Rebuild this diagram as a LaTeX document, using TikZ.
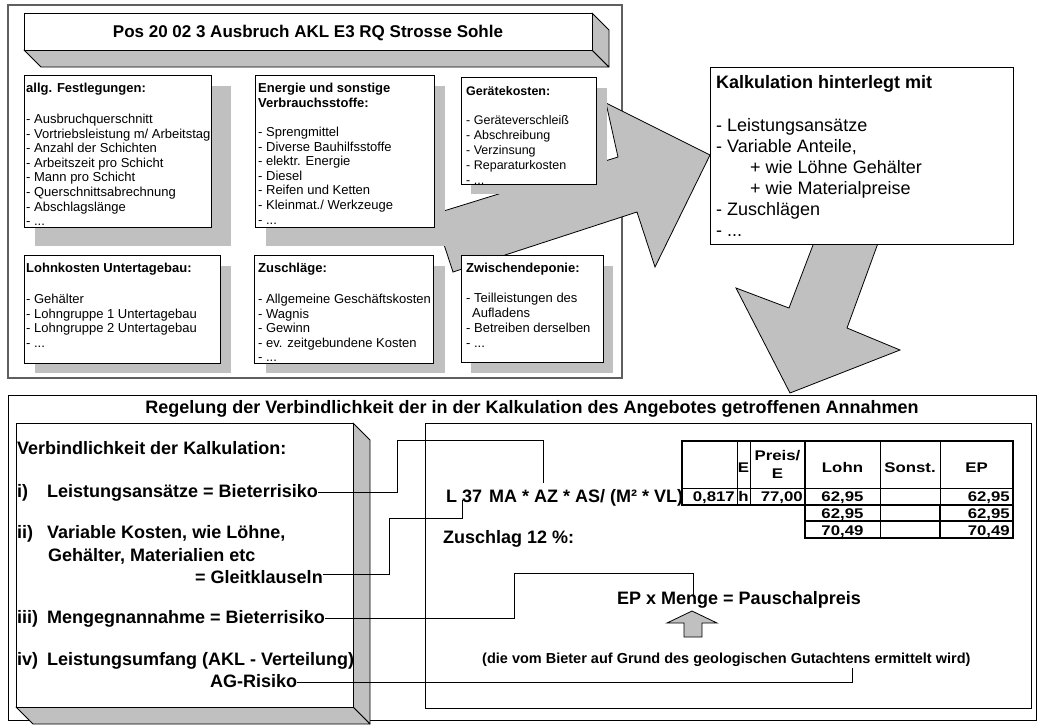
\documentclass[tikz,border=0pt]{standalone}
\usepackage{fontspec}
\setmainfont{Liberation Sans}
\newfontfamily\tabfont[FakeStretch=1.2]{Liberation Sans}
\usetikzlibrary{calc}

\definecolor{silvergray}{HTML}{C0C0C0}
\definecolor{framegray}{HTML}{5F5F5F}

% left-aligned block of lines whose first baseline is the node's base
\newcommand{\txtlines}[1]{\begin{tabular}[t]{@{}l@{}}#1\end{tabular}}

\tikzset{
  txt/.style={inner sep=0pt, anchor=base west},
  boxtxt/.style={txt, font=\fontsize{13}{14.6}\selectfont},
  boxtxtw/.style={txt, font=\fontsize{13}{15}\selectfont},
  card/.style={fill=white, draw=black, line width=0.9pt},
  dropshadow/.style={fill=silvergray, draw=none},
  face/.style={fill=silvergray, draw=black, line width=0.8pt, line join=round},
  blockarrow/.style={fill=silvergray, draw=black, line width=0.8pt, line join=miter},
  big/.style={txt, font=\fontsize{18}{22.5}\selectfont\bfseries},
  kalk/.style={txt, font=\fontsize{18}{21}\selectfont},
  link/.style={draw=black, line width=0.8pt},
  cell/.style={inner sep=0pt, anchor=base, font=\tabfont\bfseries\fontsize{14}{16}\selectfont},
  cellr/.style={cell, anchor=base east},
  tabthick/.style={line width=2pt},
  tabthin/.style={line width=1pt}
}

\begin{document}
\begin{tikzpicture}[x=1pt, y=-1pt]
\useasboundingbox (0,0) rectangle (1039,724);
\fill[white] (0,0) rectangle (1039,724);

% ---------- upper part: cost groups ----------
\draw[framegray, line width=1.3pt, fill=white] (8,5) rectangle (622,378);

% block arrow towards the calculation box
\draw[blockarrow] (434,214) -- (618,157) -- (606,103) -- (710,155)
  -- (655,267) -- (637,212) -- (453,272) -- cycle;

% title bar with depth
\draw[face] (24,50) -- (592,50) -- (609,67) -- (41,67) -- cycle;
\draw[face] (592,13) -- (609,30) -- (609,67) -- (592,50) -- cycle;
\draw[card] (24,13) rectangle (592,50);
\node[inner sep=0pt, anchor=base, font=\fontsize{17}{20}\selectfont\bfseries] (ttl) at (308,37)
  {Pos 20 02 3 Ausbruch AKL E3 RQ Strosse Sohle};

% shadows
\path[dropshadow] (35,86) rectangle (231,246);
\path[dropshadow] (266,86) rectangle (445,246);
\path[dropshadow] (471,88) rectangle (607,194);
\path[dropshadow] (35,266) rectangle (231,373);
\path[dropshadow] (266,266) rectangle (445,373);
\path[dropshadow] (471,266) rectangle (613,373);

% cards
\draw[card] (24,75) rectangle (211,227);
\draw[card] (255,75) rectangle (434,227);
\draw[card] (461,77) rectangle (596,184);
\draw[card] (24,255) rectangle (220,363);
\draw[card] (254,255) rectangle (433,363);
\draw[card] (461,255) rectangle (603,362);

\node[boxtxt] (festl) at (26,92.5) {\txtlines{\textbf{allg. Festlegungen:}\\[16.4pt]
  - Ausbruchquerschnitt\\
  - Vortriebsleistung m/ Arbeitstag\\
  - Anzahl der Schichten\\
  - Arbeitszeit pro Schicht\\
  - Mann pro Schicht\\
  - Querschnittsabrechnung\\
  - Abschlagslänge\\
  - ...}};

\node[boxtxt] (energie) at (258,92.5) {\txtlines{\textbf{Energie und sonstige}\\
  \textbf{Verbrauchsstoffe:}\\[14.8pt]
  - Sprengmittel\\
  - Diverse Bauhilfsstoffe\\
  - elektr. Energie\\
  - Diesel\\
  - Reifen und Ketten\\
  - Kleinmat./ Werkzeuge\\
  - ...}};

\node[txt, font=\fontsize{12.5}{15}\selectfont] (geraete) at (466,95.5) {\txtlines{\textbf{Gerätekosten:}\\[14pt]
  - Geräteverschleiß\\
  - Abschreibung\\
  - Verzinsung\\
  - Reparaturkosten\\
  - ...}};

\node[boxtxt] (lohn) at (26,272.5) {\txtlines{\textbf{Lohnkosten Untertagebau:}\\[16.4pt]
  - Gehälter\\
  - Lohngruppe 1 Untertagebau\\
  - Lohngruppe 2 Untertagebau\\
  - ...}};

\node[boxtxt] (zuschlaege) at (258,272.5) {\txtlines{\textbf{Zuschläge:}\\[16.4pt]
  - Allgemeine Geschäftskosten\\
  - Wagnis\\
  - Gewinn\\
  - ev. zeitgebundene Kosten\\
  - ...}};

\node[boxtxtw] (deponie) at (466,272.5) {\txtlines{\textbf{Zwischendeponie:}\\[15pt]
  - Teilleistungen des\\
  \hspace{6pt}Aufladens\\
  - Betreiben derselben\\
  - ...}};

% ---------- calculation box ----------
\draw[blockarrow] (821,224) -- (885,224) -- (847,328) -- (900,350)
  -- (790,393) -- (736,288) -- (789,308) -- cycle;
\draw[card] (710,67) rectangle (1013,244);
\node[kalk, font=\fontsize{18}{21}\selectfont\bfseries] (kalkt) at (716,88.5) {Kalkulation hinterlegt mit};
\node[kalk] (kalkl) at (716,131) {\txtlines{- Leistungsansätze\\
  - Variable Anteile,\\
  \hspace{34pt}+ wie Löhne Gehälter\\
  \hspace{34pt}+ wie Materialpreise\\
  - Zuschlägen\\
  - ...}};

% ---------- lower part: binding of the calculation ----------
\draw[black, line width=0.9pt] (8,395) rectangle (1036,720);
\node[inner sep=0pt, anchor=base, font=\fontsize{18}{22}\selectfont\bfseries] (regel) at (532,413)
  {Regelung der Verbindlichkeit der in der Kalkulation des Angebotes getroffenen Annahmen};

% left box with depth
\draw[face] (353,423) -- (370,440) -- (370,724) -- (353,707) -- cycle;
\draw[face] (16,707) -- (353,707) -- (370,724) -- (33,724) -- cycle;
\draw[card] (16,423) rectangle (353,707);

\node[big] (vtitle) at (17,454) {Verbindlichkeit der Kalkulation:};
\node[big] (v1) at (17,497) {\makebox[30pt][l]{i)}Leistungsansätze = Bieterrisiko};
\node[big] (v2a) at (17,538) {\makebox[30pt][l]{ii)}Variable Kosten, wie Löhne,};
\node[big] (v2b) at (48,561) {Gehälter, Materialien etc};
\node[big] (v2c) at (195,583) {= Gleitklauseln};
\node[big] (v3) at (17,623) {\makebox[30pt][l]{iii)}Mengegnannahme = Bieterrisiko};
\node[big] (v4) at (17,665) {\makebox[30pt][l]{iv)}Leistungsumfang (AKL - Verteilung)};
\node[big] (v4b) at (210,687) {AG-Risiko};

% right box
\draw[card] (425,423) rectangle (1031,708);
\node[big] (formel) at (446,502) {L 37\hspace{2pt} MA * AZ * AS/ (M² * VL)};
\node[big] (zuschl) at (443,543) {Zuschlag 12 \%:};
\node[big] (pausch) at (617,604) {EP x Menge = Pauschalpreis};
\node[txt, font=\fontsize{14.5}{17}\selectfont\bfseries] (geo) at (482,663)
  {(die vom Bieter auf Grund des geologischen Gutachtens ermittelt wird)};
\draw[blockarrow] (692,611) -- (717,623) -- (702,623) -- (702,637)
  -- (684,637) -- (684,623) -- (667,623) -- cycle;

% price table
\draw[tabthin] (682,488) -- (1013,488);
\foreach \cx in {737,750,880,940} \draw[tabthin] (\cx,441) -- (\cx,505);
\draw[tabthin] (880,505) -- (880,538);
\draw[tabthick] (805,441) -- (805,538);
\draw[tabthick] (940,505) -- (940,538);
\draw[tabthick] (805,521) -- (1013,521);
\draw[tabthick] (682,441) rectangle (1013,505);
\draw[tabthick] (805,505) rectangle (1013,538);

\node[cell] (hE) at (743.5,472) {E};
\node[cell] (hP1) at (777.5,460) {Preis/};
\node[cell] (hP2) at (777.5,478) {E};
\node[cell] (hL) at (842.5,472) {Lohn};
\node[cell] (hS) at (910,472) {Sonst.};
\node[cell] (hEP) at (976.5,472) {EP};
\node[cellr] (a1) at (735,501) {0,817};
\node[cell] (a2) at (743.5,501) {h};
\node[cellr] (a3) at (803,501) {77,00};
\node[cell] (a4) at (842.5,501) {62,95};
\node[cellr] (a6) at (1010,501) {62,95};
\node[cell] (b4) at (842.5,518) {62,95};
\node[cellr] (b6) at (1010,518) {62,95};
\node[cell] (c4) at (842.5,535) {70,49};
\node[cellr] (c6) at (1010,535) {70,49};

% connectors from the rules to the calculation items
\coordinate (cAZ) at (543,483);
\coordinate (cL) at (462,500);
\coordinate (cMenge) at (693,595);
\coordinate (cGut) at (852,668);
\draw[link] ([yshift=5pt]v1.base east) -| (397,440) -| (cAZ);
\draw[link] ([yshift=9pt]v2c.base east) -| (389,518) -| (cL);
\draw[link] ([yshift=5pt]v3.base east) -| (514,573) -| (cMenge);
\draw[link] ([yshift=5pt]v4b.base east) -| (cGut);
\end{tikzpicture}
\end{document}
